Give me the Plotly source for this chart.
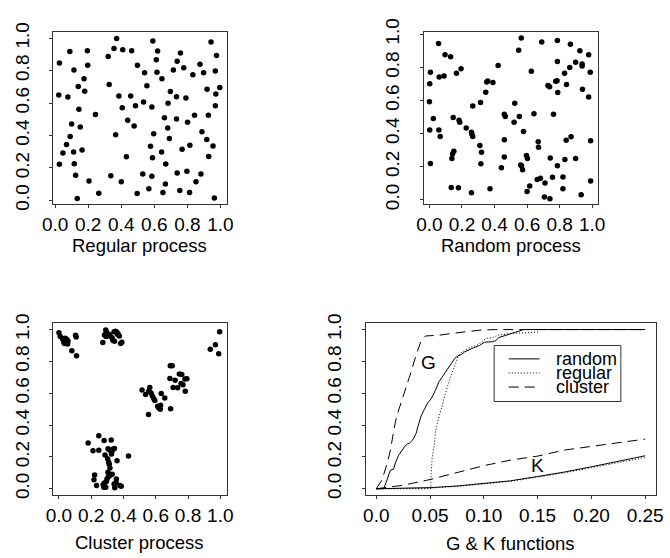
import plotly.graph_objects as go

W, H = 670, 558
FONT = "Liberation Sans, Arial, Helvetica, sans-serif"

# ---- point patterns on the unit square ----
regular_x = [0.026, 0.022, 0.089, 0.114, 0.195, 0.197, 0.175, 0.140, 0.179, 0.077,
             0.144, 0.100, 0.152, 0.091, 0.069, 0.047, 0.112, 0.163, 0.026, 0.116,
             0.124, 0.244, 0.205, 0.264, 0.134, 0.321, 0.356, 0.372, 0.409, 0.463,
             0.327, 0.386, 0.406, 0.457, 0.486, 0.439, 0.478, 0.366, 0.431, 0.337,
             0.400, 0.496, 0.498, 0.541, 0.555, 0.535, 0.585, 0.596, 0.577, 0.589,
             0.530, 0.585, 0.567, 0.652, 0.591, 0.620, 0.612, 0.616, 0.646, 0.738,
             0.758, 0.715, 0.778, 0.697, 0.683, 0.734, 0.661, 0.734, 0.681, 0.691,
             0.644, 0.669, 0.667, 0.738, 0.797, 0.754, 0.813, 0.768, 0.815, 0.801,
             0.843, 0.791, 0.833, 0.876, 0.898, 0.943, 0.976, 0.969, 0.919, 0.972,
             0.996, 0.969, 0.927, 0.888, 0.917, 0.955, 0.929, 0.852, 0.882, 0.963]
regular_y = [0.847, 0.649, 0.917, 0.804, 0.923, 0.833, 0.750, 0.702, 0.673, 0.637,
             0.562, 0.470, 0.452, 0.393, 0.345, 0.292, 0.298, 0.310, 0.222, 0.226,
             0.155, 0.530, 0.119, 0.044, 0.012, 0.887, 0.937, 0.998, 0.929, 0.923,
             0.714, 0.643, 0.571, 0.643, 0.583, 0.494, 0.458, 0.405, 0.268, 0.151,
             0.115, 0.042, 0.833, 0.786, 0.706, 0.607, 0.575, 0.411, 0.333, 0.262,
             0.163, 0.149, 0.071, 0.048, 0.982, 0.921, 0.867, 0.790, 0.750, 0.857,
             0.909, 0.804, 0.817, 0.671, 0.599, 0.639, 0.510, 0.502, 0.446, 0.381,
             0.298, 0.224, 0.101, 0.169, 0.179, 0.060, 0.048, 0.315, 0.339, 0.482,
             0.524, 0.631, 0.774, 0.839, 0.786, 0.976, 0.893, 0.798, 0.685, 0.655,
             0.696, 0.583, 0.524, 0.423, 0.375, 0.335, 0.270, 0.115, 0.163, 0.014]

random_x = [0.056, 0.006, 0.002, 0.000, 0.024, 0.002, 0.066, 0.058, 0.006, 0.060,
            0.090, 0.096, 0.130, 0.166, 0.194, 0.146, 0.182, 0.186, 0.226, 0.266,
            0.260, 0.266, 0.258, 0.314, 0.310, 0.320, 0.316, 0.150, 0.142, 0.138,
            0.134, 0.178, 0.258, 0.372, 0.346, 0.352, 0.358, 0.390, 0.422, 0.460,
            0.466, 0.460, 0.460, 0.442, 0.520, 0.524, 0.552, 0.548, 0.564, 0.578,
            0.560, 0.566, 0.572, 0.596, 0.602, 0.600, 0.616, 0.626, 0.642, 0.670,
            0.668, 0.662, 0.682, 0.710, 0.706, 0.740, 0.690, 0.728, 0.738, 0.776,
            0.784, 0.786, 0.786, 0.788, 0.762, 0.742, 0.756, 0.786, 0.820, 0.820,
            0.832, 0.830, 0.842, 0.840, 0.870, 0.866, 0.862, 0.898, 0.924, 0.938,
            0.938, 0.940, 0.978, 0.978, 0.988, 0.990, 0.990, 0.932, 0.898]
random_y = [0.944, 0.771, 0.701, 0.592, 0.491, 0.421, 0.383, 0.421, 0.219, 0.742,
            0.748, 0.876, 0.864, 0.765, 0.792, 0.497, 0.480, 0.468, 0.433, 0.567,
            0.398, 0.383, 0.408, 0.588, 0.328, 0.287, 0.217, 0.293, 0.276, 0.249,
            0.074, 0.072, 0.043, 0.066, 0.650, 0.711, 0.718, 0.709, 0.812, 0.517,
            0.503, 0.363, 0.258, 0.194, 0.468, 0.584, 0.503, 0.903, 0.977, 0.412,
            0.210, 0.206, 0.181, 0.268, 0.249, 0.050, 0.083, 0.777, 0.520, 0.318,
            0.350, 0.122, 0.130, 0.101, 0.016, 0.006, 0.953, 0.691, 0.683, 0.717,
            0.720, 0.835, 0.963, 0.649, 0.517, 0.252, 0.136, 0.206, 0.138, 0.066,
            0.243, 0.765, 0.697, 0.359, 0.381, 0.940, 0.800, 0.831, 0.901, 0.808,
            0.821, 0.668, 0.621, 0.876, 0.771, 0.357, 0.113, 0.031, 0.249]

cluster_x = [0.000, 0.008, 0.024, 0.030, 0.034, 0.040, 0.044, 0.048, 0.054, 0.032,
             0.038, 0.056, 0.080, 0.103, 0.107, 0.109,
             0.272, 0.282, 0.290, 0.294, 0.300, 0.312, 0.320, 0.330, 0.334, 0.342,
             0.350, 0.358, 0.362, 0.366, 0.344, 0.382, 0.390, 0.374, 0.292,
             0.938, 0.970, 0.996, 0.990,
             0.515, 0.537, 0.557, 0.563, 0.571, 0.579, 0.588, 0.594, 0.555, 0.612,
             0.618, 0.628, 0.630, 0.624, 0.634, 0.656, 0.692,
             0.690, 0.702, 0.688, 0.708, 0.720, 0.736, 0.746, 0.761, 0.757, 0.769,
             0.781, 0.793, 0.783,
             0.181, 0.211, 0.247, 0.247, 0.280, 0.324, 0.286, 0.304, 0.316, 0.328,
             0.334, 0.344, 0.302, 0.308, 0.312, 0.316, 0.304, 0.318, 0.306, 0.298,
             0.294, 0.282, 0.274, 0.278, 0.290, 0.221, 0.217, 0.233, 0.330, 0.356,
             0.354, 0.342, 0.346, 0.378, 0.386, 0.431, 0.360, 0.326]
cluster_y = [0.980, 0.956, 0.939, 0.923, 0.913, 0.933, 0.919, 0.939, 0.909, 0.937,
             0.945, 0.929, 0.867, 0.964, 0.954, 0.836,
             0.919, 0.966, 0.998, 0.986, 0.962, 0.970, 0.956, 0.947, 0.933, 0.986,
             0.990, 0.984, 0.970, 0.974, 0.927, 0.913, 0.921, 0.960, 0.956,
             0.877, 0.905, 0.986, 0.848,
             0.620, 0.592, 0.614, 0.636, 0.602, 0.582, 0.566, 0.554, 0.467, 0.519,
             0.509, 0.499, 0.525, 0.513, 0.598, 0.570, 0.503,
             0.772, 0.772, 0.693, 0.636, 0.681, 0.634, 0.721, 0.717, 0.661, 0.653,
             0.689, 0.691, 0.612,
             0.287, 0.238, 0.242, 0.333, 0.303, 0.307, 0.212, 0.251, 0.242, 0.236,
             0.248, 0.253, 0.188, 0.168, 0.154, 0.131, 0.103, 0.085, 0.075, 0.061,
             0.046, 0.036, 0.026, 0.010, 0.010, 0.087, 0.057, 0.020, 0.091, 0.061,
             0.040, 0.030, 0.006, 0.020, 0.016, 0.206, 0.176, 0.218]

# ---- nearest-neighbour distribution G(r) ----
g_random_r = [0, 0.007, 0.010, 0.013, 0.016, 0.0175, 0.0205, 0.022, 0.0266, 0.029,
              0.031, 0.034, 0.037, 0.0386, 0.0417, 0.0447, 0.0477, 0.0513, 0.055,
              0.058, 0.061, 0.064, 0.067, 0.070, 0.073, 0.076, 0.079, 0.082, 0.085,
              0.090, 0.096, 0.1005, 0.108, 0.111, 0.114, 0.120, 0.129, 0.137, 0.25]
g_random = [0, 0, 0.056, 0.116, 0.122, 0.157, 0.207, 0.223, 0.267, 0.281,
            0.287, 0.307, 0.347, 0.388, 0.458, 0.498, 0.538, 0.568, 0.618,
            0.669, 0.699, 0.729, 0.765, 0.795, 0.819, 0.835, 0.843, 0.859, 0.869,
            0.884, 0.900, 0.920, 0.924, 0.930, 0.950, 0.964, 0.984, 1.0, 1.0]

g_regular_r = [0, 0.0507, 0.051, 0.052, 0.054, 0.055, 0.057, 0.059, 0.061, 0.064,
               0.066, 0.069, 0.072, 0.074, 0.076, 0.079, 0.084, 0.088, 0.0945,
               0.099, 0.102, 0.108, 0.114, 0.126, 0.144, 0.152]
g_regular = [0, 0, 0.096, 0.197, 0.277, 0.357, 0.418, 0.468, 0.518, 0.578,
             0.639, 0.699, 0.759, 0.800, 0.829, 0.855, 0.876, 0.890, 0.904,
             0.930, 0.944, 0.950, 0.966, 0.976, 0.982, 0.985]

g_cluster_r = [0, 0.0024, 0.0054, 0.010, 0.013, 0.0166, 0.019, 0.022, 0.025, 0.028,
               0.0326, 0.037, 0.040, 0.0417, 0.046, 0.058, 0.070, 0.085, 0.0975,
               0.111, 0.25]
g_cluster = [0, 0.026, 0.056, 0.157, 0.237, 0.378, 0.458, 0.518, 0.578, 0.639,
             0.739, 0.839, 0.900, 0.930, 0.960, 0.964, 0.976, 0.990, 0.997,
             1.0, 1.0]

# ---- Ripley's K(r) ----
k_r = [0, 0.025, 0.05, 0.075, 0.10, 0.125, 0.15, 0.175, 0.20, 0.225, 0.25]
k_random = [0, 0.002, 0.007, 0.017, 0.032, 0.050, 0.077, 0.105, 0.138, 0.172, 0.207]
k_regular = [0, 0, 0.004, 0.015, 0.029, 0.047, 0.073, 0.100, 0.132, 0.163, 0.196]
k_cluster = [0, 0.022, 0.058, 0.100, 0.145, 0.180, 0.205, 0.243, 0.265, 0.290, 0.312]

unit_ticks = [0, 0.2, 0.4, 0.6, 0.8, 1.0]
unit_labels = ["0.0", "0.2", "0.4", "0.6", "0.8", "1.0"]
r_ticks = [0, 0.05, 0.10, 0.15, 0.20, 0.25]
r_labels = ["0.0", "0.05", "0.10", "0.15", "0.20", "0.25"]

legend_names = ["random", "regular", "cluster"]
legend_dash = ["solid", "1px,2px", "10px,6px"]

TICK_SIZE = 19


def domain(x0, x1, y0, y1):
    """Pixel box (left, right, top, bottom) -> paper domains."""
    return [x0 / W, x1 / W], [1 - y1 / H, 1 - y0 / H]


boxes = {
    1: (43.3, 221.7, 19.0, 197.3),
    2: (424.3, 603.3, 19.0, 197.3),
    3: (43.3, 221.7, 320.7, 499.0),
    4: (364.3, 662.7, 320.7, 499.0),
}
ranges = {
    1: ([-0.012, 1.038], [-0.024, 1.036]),
    2: ([-0.034, 1.036], [-0.027, 1.012]),
    3: ([-0.036, 1.040], [-0.040, 1.040]),
    4: ([-0.010, 0.260], [-0.040, 1.040]),
}

axis_style = dict(showline=True, mirror=True, linecolor="#333", linewidth=1,
                  ticks="outside", ticklen=3, tickcolor="#333", tickwidth=1,
                  showgrid=False, zeroline=False, tickmode="array",
                  tickfont=dict(family=FONT, size=TICK_SIZE, color="black"))

fig = go.Figure()

dot = dict(color="black", size=5.5)
for i, (xs, ys) in enumerate([(regular_x, regular_y), (random_x, random_y),
                              (cluster_x, cluster_y)], start=1):
    fig.add_trace(go.Scatter(x=xs, y=ys, mode="markers", marker=dot,
                             xaxis=f"x{i}", yaxis=f"y{i}", showlegend=False,
                             hoverinfo="skip"))

curves = [
    (g_random_r, g_random, "solid"),
    (g_regular_r, g_regular, legend_dash[1]),
    (g_cluster_r, g_cluster, legend_dash[2]),
    (k_r, k_random, "solid"),
    (k_r, k_regular, legend_dash[1]),
    (k_r, k_cluster, legend_dash[2]),
]
for xs, ys, dash in curves:
    fig.add_trace(go.Scatter(x=xs, y=ys, mode="lines",
                             line=dict(color="black", width=1, dash=dash),
                             xaxis="x4", yaxis="y4", showlegend=False,
                             hoverinfo="skip"))

layout = {}
for i in range(1, 5):
    xd, yd = domain(*boxes[i])
    xr, yr = ranges[i]
    xt, xl = (r_ticks, r_labels) if i == 4 else (unit_ticks, unit_labels)
    layout[f"xaxis{i}"] = dict(axis_style, domain=xd, range=xr, anchor=f"y{i}",
                               tickvals=xt, ticktext=xl, ticklabelstandoff=0)
    layout[f"yaxis{i}"] = dict(axis_style, domain=yd, range=yr, anchor=f"x{i}",
                               tickvals=unit_ticks, ticktext=unit_labels,
                               tickangle=-90, ticklabelstandoff=13)

fig.update_layout(
    width=W, height=H, margin=dict(l=0, r=0, t=0, b=0),
    paper_bgcolor="white", plot_bgcolor="white",
    font=dict(family=FONT, size=18, color="black"),
    **layout,
)

# axis captions under each panel
captions = [("Regular process", 132.5, 240), ("Random process", 513.8, 240),
            ("Cluster process", 132.5, 548), ("G & K functions", 513.7, 549)]
for text, px, py in captions:
    fig.add_annotation(text=text, x=px / W, y=1 - py / H, xref="paper", yref="paper",
                       showarrow=False, xanchor="center", yanchor="middle",
                       font=dict(family=FONT, size=18.5, color="black"))

# curve labels
fig.add_annotation(text="G", x=0.049, y=0.795, xref="x4", yref="y4", showarrow=False,
                   font=dict(family=FONT, size=19, color="black"))
fig.add_annotation(text="K", x=0.150, y=0.147, xref="x4", yref="y4", showarrow=False,
                   font=dict(family=FONT, size=19, color="black"))

# legend box inside the G & K panel
fig.add_shape(type="rect", x0=0.1096, x1=0.2274, y0=0.548, y1=0.900,
              xref="x4", yref="y4", line=dict(color="#333", width=1),
              fillcolor="white", layer="above")
rows_y = [0.816, 0.727, 0.639]
for name, dash, ry in zip(legend_names, legend_dash, rows_y):
    fig.add_shape(type="line", x0=0.1232, x1=0.1518, y0=ry, y1=ry,
                  xref="x4", yref="y4", layer="above",
                  line=dict(color="black", width=1, dash=dash))
    fig.add_annotation(text=name, x=0.165, y=ry, xref="x4", yref="y4",
                       showarrow=False, xanchor="left", yanchor="middle",
                       font=dict(family=FONT, size=18, color="black"))

fig.write_html("out.html")
